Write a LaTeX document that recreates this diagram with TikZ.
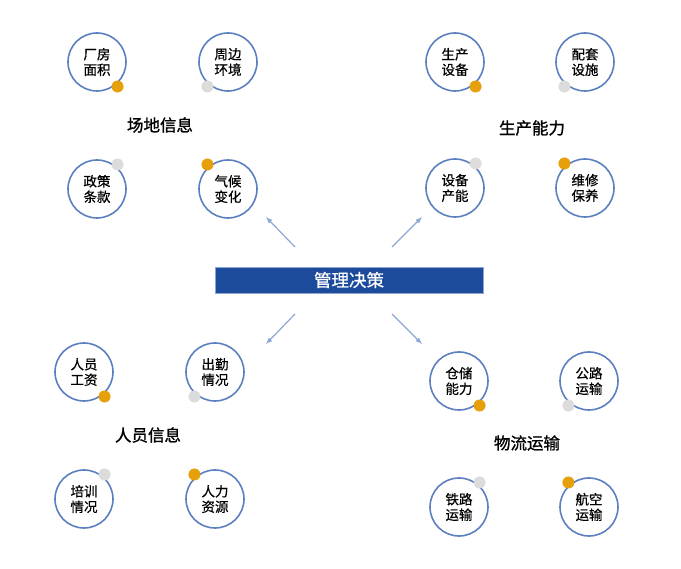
\documentclass[tikz,border=0pt]{standalone}
\usepackage{fontspec}
\setmainfont{Noto Sans CJK SC}
\newfontfamily\darkfont{Noto Sans CJK SC}[FakeBold=0.6]
\newfontfamily\headfont{Noto Sans CJK SC}[FakeBold=1.2]
\usepackage{tikz}
\usetikzlibrary{calc,arrows}
\definecolor{ringblue}{HTML}{5B7FBF}
\definecolor{dotorange}{HTML}{E5A00C}
\definecolor{dotgray}{HTML}{DCDCDC}
\definecolor{bannerblue}{HTML}{1D4B9B}
\definecolor{linkblue}{HTML}{8CA7D6}

\begin{document}
\begin{tikzpicture}[x=1pt,y=-1pt,
    item/.style={circle,draw=ringblue,line width=1.6pt,minimum size=58pt,inner sep=0pt,outer sep=3pt,align=center,font=\darkfont\fontsize{13.5}{15.5}\selectfont},
    dot/.style={circle,fill=#1,inner sep=0pt,minimum size=12pt},
    group/.style={font=\headfont\fontsize{16.5}{20}\selectfont},
    banner/.style={draw=linkblue,line width=0.6pt,fill=bannerblue,text=white,minimum width=268pt,minimum height=26pt,inner sep=0pt,font=\darkfont\fontsize{17.5}{19}\selectfont},
    link/.style={-latex,draw=linkblue,line width=1.2pt}]
  \useasboundingbox (0,0) rectangle (681,569);
  % circles with a marker dot on the rim
  \foreach \n/\x/\y/\t/\c/\a in {
      a1/97/62/厂房\\面积/dotorange/-50, a2/228/62/周边\\环境/dotgray/-130,
      a3/97/189/政策\\条款/dotgray/50, a4/228/189/气候\\变化/dotorange/130,
      b1/455/62/生产\\设备/dotorange/-50, b2/585/62/配套\\设施/dotgray/-130,
      b3/455/188/设备\\产能/dotgray/50, b4/585/188/维修\\保养/dotorange/130,
      c1/84/372/人员\\工资/dotorange/-50, c2/215/372/出勤\\情况/dotgray/-130,
      c3/84/499/培训\\情况/dotgray/50, c4/215/499/人力\\资源/dotorange/130,
      d1/459/381/仓储\\能力/dotorange/-50, d2/589/381/公路\\运输/dotgray/-130,
      d3/459/507/铁路\\运输/dotgray/50, d4/589/507/航空\\运输/dotorange/130}
  {
    \node[item](\n)at(\x,\y){\t};
    \node[dot=\c](\n-dot)at(\n.\a){};
  }
  \node[group](site)at(160,125){场地信息};
  \node[group](prod)at(532,128){生产能力};
  \node[group](staff)at(148,435){人员信息};
  \node[group](trans)at(527,443){物流运输};
  \node[banner](plan)at(349,280){管理决策};
  % arrows out of the banner
  \coordinate(s1)at(295,247); \coordinate(e1)at(266,217);
  \coordinate(s2)at(392,247); \coordinate(e2)at(422,217);
  \coordinate(s3)at(295,314); \coordinate(e3)at(266,344);
  \coordinate(s4)at(392,314); \coordinate(e4)at(422,344);
  \foreach \i in {1,...,4} \draw[link](s\i)--(e\i);
\end{tikzpicture}
\end{document}
